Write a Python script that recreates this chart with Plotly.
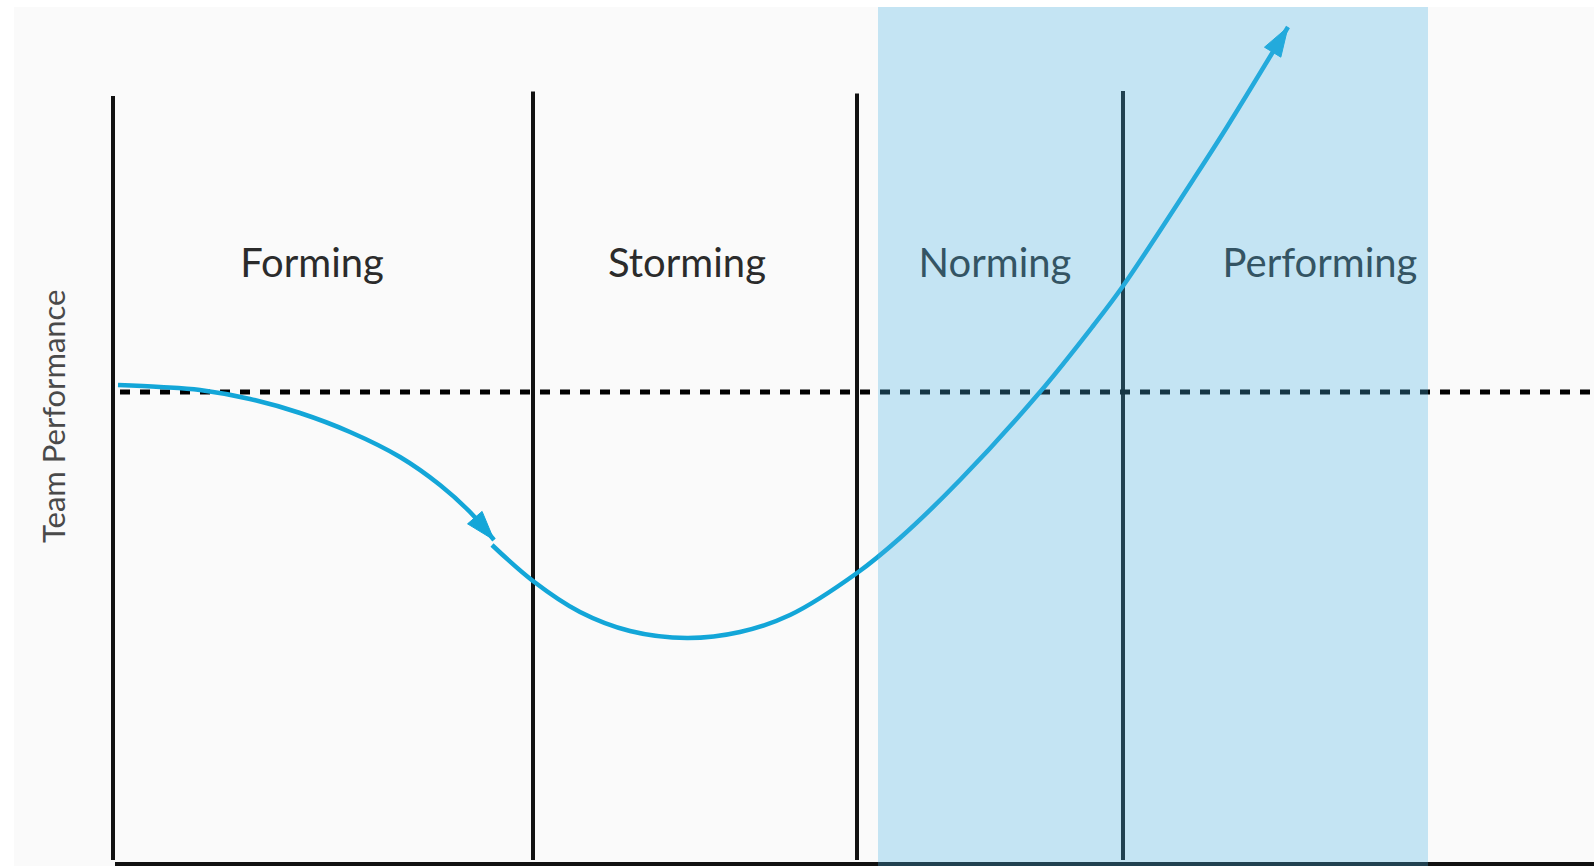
import plotly.graph_objects as go

# Stage names and where their labels sit (time units, performance units)
stage_names = ["Forming", "Storming", "Norming", "Performing"]
stage_label_x = [1.99, 5.74, 8.82, 12.07]
stage_label_y = [1.25, 1.25, 1.25, 1.25]

# Stage boundaries (vertical dividers) and their top ends
stage_bounds = [0.0, 4.20, 7.44, 10.10]
stage_tops = [2.96, 3.005, 2.985, 3.01]
divider_bottom = -4.68

# Baseline performance level (dashed) and the time axis
baseline_level = 0.0
baseline_x = [0.07, 14.81]
time_axis_y = -4.72
time_axis_x = [0.02, 14.81]

# Highlighted span (norming through performing)
highlight_x = [7.65, 13.15]

# Team performance curve: initial dip through forming ...
decline_x = [0.05, 0.47, 0.87, 1.37, 1.87, 2.37, 2.87, 3.27, 3.57, 3.81]
decline_y = [0.07, 0.05, 0.02, -0.07, -0.21, -0.40, -0.65, -0.93, -1.20, -1.48]
# ... then the storming trough and the climb to high performance
rise_x = [3.79, 4.20, 4.67, 5.17, 5.74, 6.27, 6.77, 7.44, 7.87, 8.47, 9.27, 9.80, 10.10, 10.80, 11.14, 11.75]
rise_y = [-1.53, -1.89, -2.20, -2.39, -2.46, -2.40, -2.23, -1.81, -1.46, -0.88, 0.0, 0.66, 1.06, 2.12, 2.65, 3.65]

CURVE = "#13a6d8"
X_RANGE = [-0.99, 14.81]
Y_RANGE = [-4.74, 3.85]

fig = go.Figure()

# vertical stage dividers
div_x, div_y = [], []
for bx, top in zip(stage_bounds, stage_tops):
    div_x += [bx, bx, None]
    div_y += [divider_bottom, top, None]
fig.add_trace(go.Scatter(x=div_x, y=div_y, mode="lines",
                         line=dict(color="#111111", width=4),
                         hoverinfo="skip", showlegend=False))

# time axis along the bottom
fig.add_trace(go.Scatter(x=time_axis_x, y=[time_axis_y, time_axis_y], mode="lines",
                         line=dict(color="#111111", width=4),
                         hoverinfo="skip", showlegend=False))

# dashed baseline
fig.add_trace(go.Scatter(x=baseline_x, y=[baseline_level, baseline_level], mode="lines",
                         line=dict(color="#000000", width=5, dash="10px,10px"),
                         hoverinfo="skip", showlegend=False))


def arrow_curve(xs, ys):
    sizes = [0] * (len(xs) - 1) + [31]
    return go.Scatter(
        x=xs, y=ys, mode="lines+markers",
        line=dict(color=CURVE, width=4.5, shape="spline", smoothing=1.0),
        marker=dict(symbol="arrow", size=sizes, angleref="previous",
                    color=CURVE, opacity=1, line=dict(width=1, color=CURVE)),
        hoverinfo="skip", showlegend=False)


fig.add_trace(arrow_curve(decline_x, decline_y))
fig.add_trace(arrow_curve(rise_x, rise_y))

# stage labels
fig.add_trace(go.Scatter(x=stage_label_x, y=stage_label_y, mode="text",
                         text=stage_names, textposition="middle center",
                         textfont=dict(family="Lato", size=40, color="#2b2b2b"),
                         hoverinfo="skip", showlegend=False))

# highlighted band drawn over the lines, tinting them
fig.add_shape(type="rect", xref="x", yref="paper",
              x0=highlight_x[0], x1=highlight_x[1], y0=0, y1=1,
              fillcolor="rgba(73,180,227,0.30)", line=dict(width=0),
              layer="above")

# y axis title
fig.add_annotation(x=-0.60, y=-0.24, xref="x", yref="y",
                   text="Team Performance", textangle=-90, showarrow=False,
                   font=dict(family="Lato", size=31, color="#4a4a4a"))

fig.update_layout(
    width=1594, height=866,
    margin=dict(l=14, r=0, t=7, b=0),
    paper_bgcolor="#ffffff",
    plot_bgcolor="#fafafa",
    xaxis=dict(range=X_RANGE, visible=False, fixedrange=True),
    yaxis=dict(range=Y_RANGE, visible=False, fixedrange=True),
    showlegend=False,
)

fig.write_html("out.html", config={"displayModeBar": False})
